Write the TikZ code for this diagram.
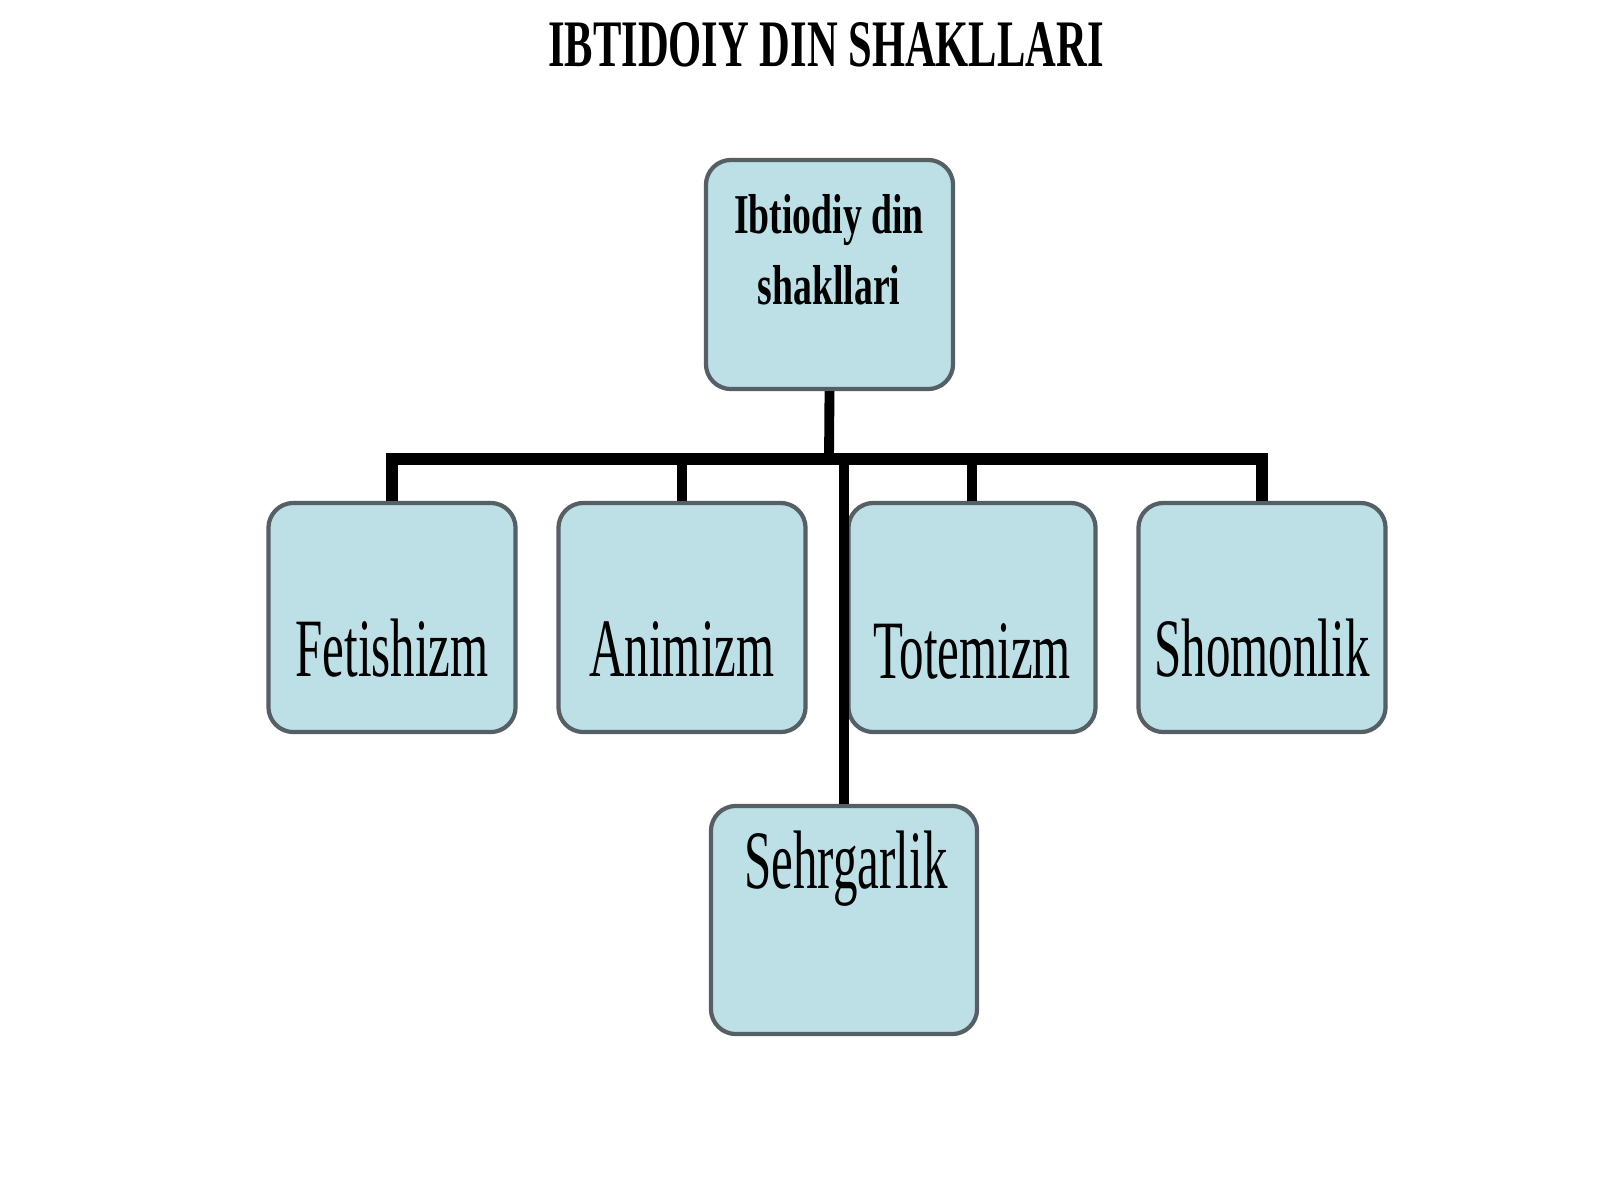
\documentclass[tikz,border=0pt]{standalone}
\usepackage{fontspec}
\setmainfont{Liberation Serif}
\newfontfamily\formfont[FakeStretch=0.59]{Liberation Serif}
\newfontfamily\titlefont[FakeStretch=0.64]{Liberation Serif}
\newfontfamily\rootfont[FakeStretch=0.67]{Liberation Serif}
\definecolor{boxblue}{RGB}{188,224,230}
\definecolor{boxline}{RGB}{85,95,100}

\begin{document}
\begin{tikzpicture}[x=0.01cm, y=-0.01cm,
    formbox/.style={draw=boxline, fill=boxblue, line width=1.2pt, rounded corners=0.25cm,
      minimum width=2.47cm, minimum height=2.29cm, inner sep=0pt},
    formtext/.style={anchor=base, font=\formfont\fontsize{23.6}{28}\selectfont},
    roottext/.style={anchor=base, font=\rootfont\bfseries\fontsize{16}{20}\selectfont},
    link/.style={line width=2.8pt, line join=miter}]
                \useasboundingbox (0,0) rectangle (1600,1200);

                % Title
                \node[anchor=base, font=\titlefont\bfseries\fontsize{18.9}{22}\selectfont] (title) at (826,66) {IBTIDOIY DIN SHAKLLARI};

                % Root box
                \node[formbox] (root) at (829.5,274.5) {};
                \node[roottext] (rootA) at (829,233) {Ibtiodiy din};
                \node[roottext] (rootB) at (829,304) {shakllari};

                % Forms
                \node[formbox] (fet) at (392,617.5) {};
                \node[formbox] (ani) at (682,617.5) {};
                \node[formbox] (tot) at (972,617.5) {};
                \node[formbox] (sho) at (1262,617.5) {};
                \node[formbox, minimum width=2.66cm, minimum height=2.28cm] (seh) at (844,920) {};

                \node[formtext] (fetT) at (392,676) {Fetishizm};
                \node[formtext] (aniT) at (682,676) {Animizm};
                \node[formtext] (totT) at (972,678) {Totemizm};
                \node[formtext] (shoT) at (1262,676) {Shomonlik};
                \node[formtext] (sehT) at (846,888) {Sehrgarlik};

                % Connectors
                \coordinate (bus) at (829,459);
                \draw[link] (root.south) -- (bus);
                \draw[link, line width=3.2pt] (fet.north) -- (fet.north |- bus) -- (sho.north |- bus) -- (sho.north);
                \draw[link] (ani.north) -- (ani.north |- bus);
                \draw[link] (tot.north) -- (tot.north |- bus);
                \draw[link] (seh.north) -- (seh.north |- bus);
\end{tikzpicture}
\end{document}
